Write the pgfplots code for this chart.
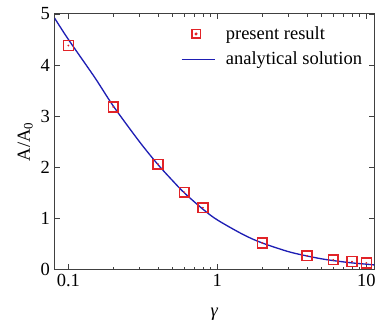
\documentclass[border=0pt]{standalone}
\usepackage{pgfplots}
\pgfplotsset{compat=1.18}
\usepackage{fontspec}
\setmainfont{Liberation Serif}
\definecolor{mkred}{RGB}{225,35,40}
\definecolor{lnblue}{RGB}{30,30,180}
\pgfplotsset{
  marklegend/.style={legend image code/.code={%
    \draw[##1] plot coordinates {(11pt,0pt)};%
    \fill[mkred] (11pt,0pt) circle (0.5pt);%
    \path (0pt,0pt) (31pt,0pt);}},
  linelegend/.style={legend image code/.code={\draw[##1] (0pt,0pt) -- (25pt,0pt);\path (31pt,0pt);}},
}
\pgfplotstableread{
x y
0.1 4.38
0.2 3.18
0.4 2.06
0.6 1.51
0.8 1.21
2 0.52
4 0.27
6 0.19
8 0.155
10 0.13
}\present
\pgfplotstableread{
x y
0.0807 4.92
0.1 4.50
0.15 3.76
0.2 3.20
0.3 2.50
0.4 2.05
0.5 1.74
0.6 1.50
0.8 1.18
1.0 0.97
1.5 0.68
2.0 0.52
3.0 0.35
4.0 0.265
5.0 0.21
6.0 0.175
8.0 0.13
10 0.105
11.3 0.09
}\analytic
\begin{document}
\begin{tikzpicture}
\begin{axis}[
  scale only axis,
  width=242pt, height=193.5pt,
  xmode=log,
  xmin=0.0807, xmax=11.3,
  ymin=0, ymax=5,
  xtick={0.1,1,10}, xticklabels={0.1,1,10},
  ytick={0,1,2,3,4,5},
  /pgf/number format/assume math mode=true,
  tick align=inside,
  major tick length=4pt,
  minor tick length=2pt,
  axis line style={black!75, line width=0.8pt},
  tick style={black!75},
  tick label style={font=\fontsize{14}{16}\selectfont},
  xlabel={\itshape γ},
  ylabel={A/A\textsubscript{0}},
  label style={font=\fontsize{14}{16}\selectfont},
  xlabel style={yshift=-9pt},
  ylabel style={yshift=-1pt},
  legend cell align=left,
  legend style={draw=none, fill=none, at={(0.39,0.967)}, anchor=north west,
    font=\fontsize{14}{16}\selectfont, row sep=4pt, inner sep=1pt},
]
\addlegendimage{only marks, mark=square, mark size=3.2pt, draw=mkred, line width=1.1pt, marklegend}
\addlegendentry{present result}
\addplot[lnblue, line width=1pt, smooth, tension=0.5, linelegend] table[x=x,y=y]{\analytic};
\addlegendentry{analytical solution}
\addplot[forget plot, only marks, mark=square, mark size=3.7pt, color=mkred, mark options={draw=mkred, fill=none}, line width=1.1pt] table[x=x,y=y]{\present};
\addplot[forget plot, only marks, mark=*, mark size=0.45pt, color=mkred, mark options={draw=none, fill=mkred}] table[x=x,y=y]{\present};
\end{axis}
\path ([xshift=-41.25pt,yshift=-33.75pt]current axis.south west) rectangle ([xshift=1.5pt,yshift=10.5pt]current axis.north east);
\end{tikzpicture}
\end{document}
